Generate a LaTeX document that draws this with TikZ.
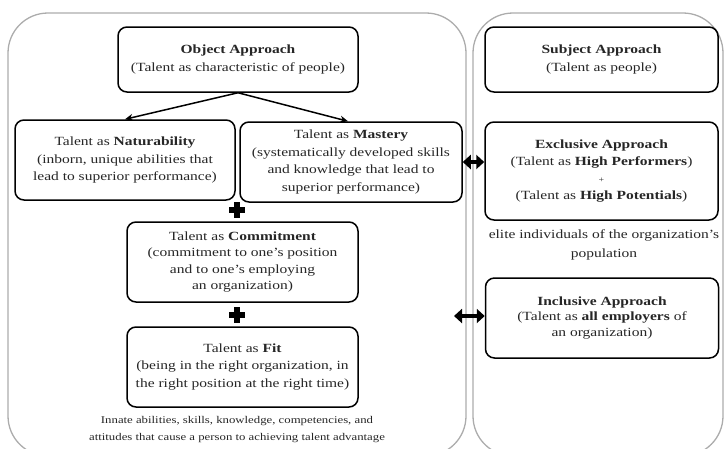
\documentclass[tikz,border=0pt]{standalone}
\usepackage{fontspec}
\setmainfont{Liberation Serif}[FakeStretch=1.24]
\usetikzlibrary{arrows.meta,positioning}

\tikzset{
  panel/.style={draw=gray!65, line width=1.3pt, rounded corners=40pt},
  tbox/.style={draw, line width=1.5pt, rounded corners=9pt, align=center,
    inner sep=0pt, text=black!85, font=\fontsize{12.5}{17.5}\selectfont},
  note/.style={align=center, text=black!85, font=\fontsize{12.5}{19}\selectfont},
  link/.style={-{Stealth[length=8pt,width=7pt]}, line width=1.5pt},
  twoway/.style={{Triangle[length=8pt,width=14pt]}-{Triangle[length=8pt,width=14pt]}, line width=4pt},
}

\begin{document}
\begin{tikzpicture}[x=1pt,y=-1pt]
  \useasboundingbox (0,0) rectangle (726,448);
  \clip (0,0) rectangle (726,448);

  % the two frames
  \draw[panel] (8,13) rectangle (466,456);
  \draw[panel] (473,13) rectangle (723,456);

  % left side
  \node[tbox, minimum width=240pt, minimum height=65pt] (object) at (238,59.5)
    {\textbf{Object Approach}\\(Talent as characteristic of people)};
  \node[tbox, minimum width=220pt, minimum height=80pt] (natur) at (125,160)
    {Talent as \textbf{Naturability}\\(inborn, unique abilities that\\lead to superior performance)};
  \node[tbox, minimum width=222pt, minimum height=80pt] (mastery) at (351,162)
    {Talent as \textbf{Mastery}\\(systematically developed skills\\and knowledge that lead to\\superior performance)};
  \node[tbox, minimum width=231pt, minimum height=80pt,
    font=\fontsize{12.5}{16.3}\selectfont] (commit) at (242.5,262)
    {Talent as \textbf{Commitment}\\(commitment to one's position\\and to one's employing\\an organization)};
  \node[tbox, minimum width=231pt, minimum height=80pt] (fit) at (242.5,367)
    {Talent as \textbf{Fit}\\(being in the right organization, in\\the right position at the right time)};
  \node[note, font=\fontsize{10.3}{16.5}\selectfont] (innate) at (237,429.5)
    {Innate abilities, skills, knowledge, competencies, and\\attitudes that cause a person to achieving talent advantage};

  \draw[link] (object.south) -- (natur.north);
  \draw[link] (object.south) -- ([xshift=-3pt]mastery.north);

  % plus signs
  \foreach \px/\py in {237/210, 237/315}
  {
    \fill (\px-8,\py-3) rectangle (\px+8,\py+3);
    \fill (\px-3,\py-8) rectangle (\px+3,\py+8);
  }

  % right side
  \node[tbox, minimum width=233pt, minimum height=65pt] (subject) at (601.5,59.5)
    {\textbf{Subject Approach}\\(Talent as people)};
  \node[tbox, minimum width=233pt, minimum height=98pt,
    font=\fontsize{12.5}{17}\selectfont] (exclus) at (601.5,171)
    {\textbf{Exclusive Approach}\\(Talent as \textbf{High Performers})\\{\fontsize{8}{8}\selectfont +}\\(Talent as \textbf{High Potentials})};
  \node[note] (elite) at (604,245)
    {elite individuals of the organization's\\population};
  \node[tbox, minimum width=233pt, minimum height=80pt,
    font=\fontsize{12.5}{15.5}\selectfont] (inclus) at (602,318)
    {\textbf{Inclusive Approach}\\(Talent as \textbf{all employers} of\\an organization)};

  \coordinate (free) at (454,316);
  \draw[twoway] (mastery.east) -- (mastery.east -| exclus.west);
  \draw[twoway] (free) -- (free -| inclus.west);
\end{tikzpicture}
\end{document}
